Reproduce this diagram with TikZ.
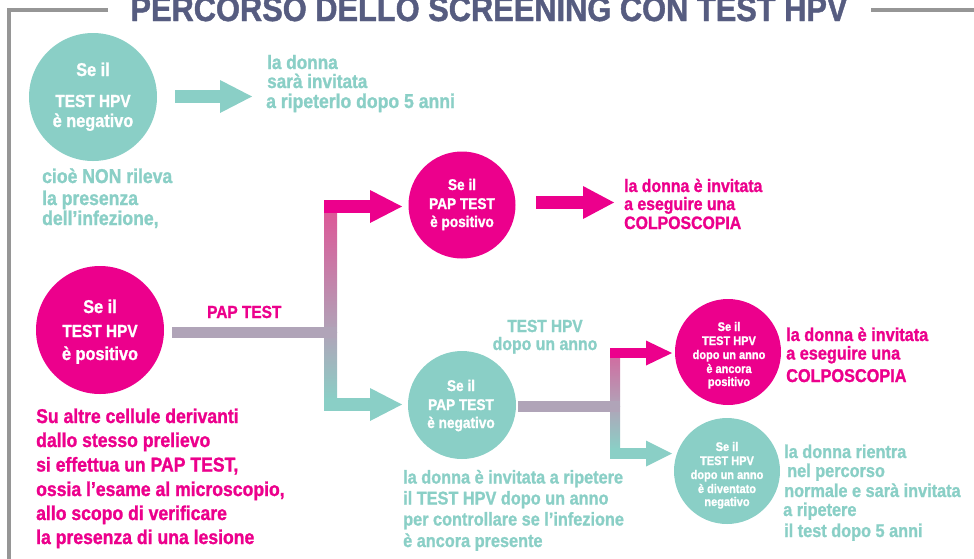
\documentclass[tikz,border=0pt]{standalone}
\usepackage{fontspec}
\newfontfamily\cf[FakeStretch=0.88,FakeBold=1.2]{Liberation Sans}
\usetikzlibrary{arrows.meta}
\definecolor{tealc}{RGB}{138,207,198}
\definecolor{magc}{RGB}{236,0,140}
\definecolor{pinkbar}{RGB}{220,88,152}
\definecolor{graybar}{RGB}{176,164,184}
\definecolor{titlec}{RGB}{86,92,128}
\definecolor{framec}{RGB}{150,150,150}
\newcommand\ftz[1]{\cf\bfseries\fontsize{#1}{#1}\selectfont}
\begin{document}
\begin{tikzpicture}[x=1pt,y=-1pt,
  tx/.style={anchor=base west, inner sep=0pt},
  ct/.style={anchor=base, inner sep=0pt, text=white},
  disc/.style={circle, inner sep=0pt, minimum size=#1},
  barline/.style={line width=#1, line cap=butt},
]
\useasboundingbox (0,0) rectangle (974,558);

% frame and title
\coordinate (f1) at (108,10); \coordinate (f2) at (9,10); \coordinate (f3) at (9,560);
\coordinate (f4) at (871,10); \coordinate (f5) at (976,10);
\draw[framec, line width=4pt] (f1) -- (f2) -- (f3);
\draw[framec, line width=4pt] (f4) -- (f5);
\node[anchor=base, inner sep=0pt, text=titlec, font=\ftz{35}] (title) at (489,21) {PERCORSO DELLO SCREENING CON TEST HPV};

% circles
\node[disc=128pt, fill=tealc] (c1) at (93,97) {};
\node[disc=128pt, fill=magc] (c2) at (100,330) {};
\node[disc=107pt, fill=magc] (c3) at (462,205) {};
\node[disc=108pt, fill=tealc] (c4) at (462,405) {};
\node[disc=106pt, fill=magc] (c5) at (728,352) {};
\node[disc=106pt, fill=tealc] (c6) at (727,471) {};

% circle texts
\begin{scope}[every node/.append style={ct, font=\ftz{18.5}}]
\node (c1a) at (93,76) {Se il};
\node[font=\ftz{17.5}] (c1b) at (93,107) {TEST HPV};
\node (c1c) at (93,127) {è negativo};
\node (c2a) at (100,313) {Se il};
\node[font=\ftz{17.5}] (c2b) at (100,337) {TEST HPV};
\node (c2c) at (100,360) {è positivo};
\end{scope}
\begin{scope}[every node/.append style={ct, font=\ftz{15.5}}]
\node (c3a) at (462,190) {Se il};
\node (c3b) at (462,209) {PAP TEST};
\node (c3c) at (462,227) {è positivo};
\node (c4a) at (461,391) {Se il};
\node (c4b) at (461,410) {PAP TEST};
\node (c4c) at (461,428) {è negativo};
\end{scope}
\begin{scope}[every node/.append style={ct, font=\ftz{12.5}}]
\node (c5a) at (729,331) {Se il};
\node (c5b) at (729,345) {TEST HPV};
\node (c5c) at (729,359) {dopo un anno};
\node (c5d) at (729,373) {è ancora};
\node (c5e) at (729,386) {positivo};
\node (c6a) at (727,451) {Se il};
\node (c6b) at (727,465) {TEST HPV};
\node (c6c) at (727,479) {dopo un anno};
\node (c6d) at (727,493) {è diventato};
\node (c6e) at (727,506) {negativo};
\end{scope}

% connectors
\coordinate (a1s) at (175,96.5); \coordinate (a1e) at (252,96.5);
\draw[tealc, barline=13pt, -{Triangle[length=32pt,width=33pt,line width=0pt]}] (a1s) -- (a1e);

\coordinate (b1s) at (172,332.5); \coordinate (b1e) at (337,332.5);
\shade[top color=pinkbar, bottom color=graybar] (324,212) rectangle (337,332.5);
\shade[top color=graybar, bottom color=tealc] (324,332.5) rectangle (337,400);
\draw[graybar, barline=11pt] (b1s) -- (b1e);
\coordinate (p1s) at (324,206.5); \coordinate (p1e) at (402,206.5);
\coordinate (n1s) at (324,404.5); \coordinate (n1e) at (402,404.5);
\draw[magc, barline=13pt, -{Triangle[length=32pt,width=33pt,line width=0pt]}] (p1s) -- (p1e);
\draw[tealc, barline=13pt, -{Triangle[length=32pt,width=33pt,line width=0pt]}] (n1s) -- (n1e);

\coordinate (a2s) at (536,202.5); \coordinate (a2e) at (614,202.5);
\draw[magc, barline=13pt, -{Triangle[length=31pt,width=33pt,line width=0pt]}] (a2s) -- (a2e);

\coordinate (b2s) at (518,406.5); \coordinate (b2e) at (620,406.5);
\shade[top color=pinkbar!70!graybar, bottom color=graybar] (610,358) rectangle (620,406.5);
\shade[top color=graybar, bottom color=tealc] (610,406.5) rectangle (620,449);
\draw[graybar, barline=11pt] (b2s) -- (b2e);
\coordinate (p2s) at (610,353); \coordinate (p2e) at (672,353);
\coordinate (n2s) at (610,453.5); \coordinate (n2e) at (672,453.5);
\draw[magc, barline=10pt, -{Triangle[length=26pt,width=25pt,line width=0pt]}] (p2s) -- (p2e);
\draw[tealc, barline=11pt, -{Triangle[length=26pt,width=26pt,line width=0pt]}] (n2s) -- (n2e);

% texts
\begin{scope}[every node/.append style={tx, text=tealc, font=\ftz{20}}]
\node[font=\ftz{19.5}] (t1a) at (267,69) {la donna};
\node[font=\ftz{19.5}] (t1b) at (267,88) {sarà invitata};
\node (t1c) at (266,108) {a ripeterlo dopo 5 anni};
\node (t2a) at (42,183) {cioè NON rileva};
\node (t2b) at (42,205) {la presenza};
\node (t2c) at (42,225) {dell’infezione,};
\end{scope}
\begin{scope}[every node/.append style={tx, text=magc, font=\ftz{20}}]
\node (t3a) at (36,423) {Su altre cellule derivanti};
\node (t3b) at (36,447) {dallo stesso prelievo};
\node (t3c) at (36,471.5) {si effettua un PAP TEST,};
\node (t3d) at (36,496) {ossia l’esame al microscopio,};
\node (t3e) at (36,520) {allo scopo di verificare};
\node (t3f) at (36,544) {la presenza di una lesione};
\end{scope}
\node[tx, text=magc, font=\ftz{17.5}] (lpap) at (207,318) {PAP TEST};
\begin{scope}[every node/.append style={tx, text=magc, font=\ftz{18}}]
\node (t4a) at (624,192) {la donna è invitata};
\node (t4b) at (624,210) {a eseguire una};
\node (t4c) at (624,229) {COLPOSCOPIA};
\end{scope}
\node[anchor=base, inner sep=0pt, text=tealc, font=\ftz{17.5}] (lhpva) at (545,332) {TEST HPV};
\node[anchor=base, inner sep=0pt, text=tealc, font=\ftz{18}] (lhpvb) at (545,350) {dopo un anno};
\begin{scope}[every node/.append style={tx, text=tealc, font=\ftz{18.5}}]
\node (t5a) at (403,483.5) {la donna è invitata a ripetere};
\node (t5b) at (403,504.5) {il TEST HPV dopo un anno};
\node (t5c) at (403,525.5) {per controllare se l’infezione};
\node (t5d) at (403,547) {è ancora presente};
\end{scope}
\begin{scope}[every node/.append style={tx, text=magc, font=\ftz{18.5}}]
\node (t6a) at (786,341) {la donna è invitata};
\node (t6b) at (786,359.5) {a eseguire una};
\node (t6c) at (786,382) {COLPOSCOPIA};
\end{scope}
\begin{scope}[every node/.append style={tx, text=tealc, font=\ftz{18.5}}]
\node (t7a) at (784,458) {la donna rientra};
\node (t7b) at (787,477) {nel percorso};
\node (t7c) at (784,497) {normale e sarà invitata};
\node (t7d) at (783,516) {a ripetere};
\node (t7e) at (784,537) {il test dopo 5 anni};
\end{scope}
\end{tikzpicture}
\end{document}
